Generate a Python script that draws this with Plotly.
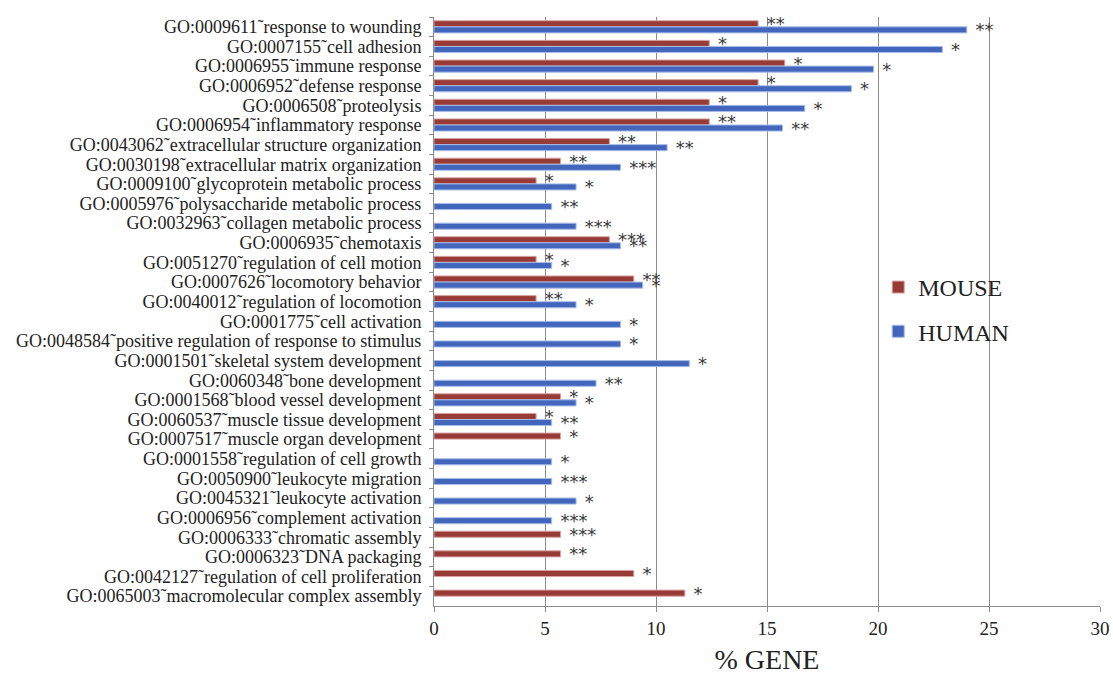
import plotly.graph_objects as go

categories = [
    "GO:0009611˜response to wounding",
    "GO:0007155˜cell adhesion",
    "GO:0006955˜immune response",
    "GO:0006952˜defense response",
    "GO:0006508˜proteolysis",
    "GO:0006954˜inflammatory response",
    "GO:0043062˜extracellular structure organization",
    "GO:0030198˜extracellular matrix organization",
    "GO:0009100˜glycoprotein metabolic process",
    "GO:0005976˜polysaccharide metabolic process",
    "GO:0032963˜collagen metabolic process",
    "GO:0006935˜chemotaxis",
    "GO:0051270˜regulation of cell motion",
    "GO:0007626˜locomotory behavior",
    "GO:0040012˜regulation of locomotion",
    "GO:0001775˜cell activation",
    "GO:0048584˜positive regulation of response to stimulus",
    "GO:0001501˜skeletal system development",
    "GO:0060348˜bone development",
    "GO:0001568˜blood vessel development",
    "GO:0060537˜muscle tissue development",
    "GO:0007517˜muscle organ development",
    "GO:0001558˜regulation of cell growth",
    "GO:0050900˜leukocyte migration",
    "GO:0045321˜leukocyte activation",
    "GO:0006956˜complement activation",
    "GO:0006333˜chromatic assembly",
    "GO:0006323˜DNA packaging",
    "GO:0042127˜regulation of cell proliferation",
    "GO:0065003˜macromolecular complex assembly",
]

mouse = [14.6, 12.4, 15.8, 14.6, 12.4, 12.4, 7.9, 5.7, 4.6, None,
         None, 7.9, 4.6, 9.0, 4.6, None, None, None, None, 5.7,
         4.6, 5.7, None, None, None, None, 5.7, 5.7, 9.0, 11.3]
human = [24.0, 22.9, 19.8, 18.8, 16.7, 15.7, 10.5, 8.4, 6.4, 5.3,
         6.4, 8.4, 5.3, 9.4, 6.4, 8.4, 8.4, 11.5, 7.3, 6.4,
         5.3, None, 5.3, 5.3, 6.4, 5.3, None, None, None, None]

mouse_sig = ["**", "*", "*", "*", "*", "**", "**", "**", "*", "",
             "", "***", "*", "**", "**", "", "", "", "", "*",
             "*", "*", "", "", "", "", "***", "**", "*", "*"]
human_sig = ["**", "*", "*", "*", "*", "**", "**", "***", "*", "**",
             "***", "**", "*", "*", "*", "*", "*", "*", "**", "*",
             "**", "", "*", "***", "*", "***", "", "", "", ""]

xticks = [0, 5, 10, 15, 20, 25, 30]

serif = "Liberation Serif, 'Times New Roman', serif"
star_font = dict(size=18, color="#3a3a3a", family="DejaVu Sans, sans-serif")


def pad(labels):
    return ["\u00a0" + s if s else "" for s in labels]


fig = go.Figure()
fig.add_trace(go.Bar(
    y=categories, x=mouse, orientation="h", name="MOUSE",
    marker=dict(color="#983B36", line=dict(color="#d9a3a1", width=1)),
    text=pad(mouse_sig), textposition="outside", constraintext="none",
    textfont=star_font, cliponaxis=False, legendgroup="m",
))
fig.add_trace(go.Bar(
    y=categories, x=human, orientation="h", name="HUMAN",
    marker=dict(color="#4366BD", line=dict(color="#a9bde6", width=1)),
    text=pad(human_sig), textposition="outside", constraintext="none",
    textfont=star_font, cliponaxis=False, legendgroup="h",
))

fig.update_layout(
    width=1113, height=675,
    margin=dict(l=434, r=13, t=17, b=69, autoexpand=False),
    barmode="group", bargap=0.38, bargroupgap=0.0,
    paper_bgcolor="white", plot_bgcolor="white",
    font=dict(family=serif, size=18, color="#222222"),
    legend=dict(x=0.667, y=0.579, xanchor="left", yanchor="top",
                traceorder="grouped", tracegroupgap=10,
                font=dict(size=24, color="#222222", family=serif),
                bgcolor="rgba(0,0,0,0)"),
    xaxis=dict(range=[0, 30], tickvals=xticks, showgrid=True,
               gridcolor="#8c8c8c", gridwidth=1, zeroline=False,
               showline=True, linecolor="#8c8c8c", linewidth=1,
               ticks="outside", ticklen=5, tickcolor="#8c8c8c",
               tickfont=dict(size=19, family=serif), automargin=False,
               title=dict(text="% GENE", font=dict(size=28, family=serif),
                          standoff=14)),
    yaxis=dict(autorange="reversed", showline=True, linecolor="#8c8c8c",
               linewidth=1, ticks="outside", ticklen=4, tickcolor="#8c8c8c",
               tickson="boundaries", tickmode="linear", tick0=0, dtick=1,
               ticklabelstandoff=8, automargin=False,
               tickfont=dict(size=18, family=serif), showgrid=False),
)

# remove the page's default body margin so the figure sits at the window origin
fig.write_html("out.html",
               config={"displayModeBar": False},
               post_script="document.body.style.margin='0';")
